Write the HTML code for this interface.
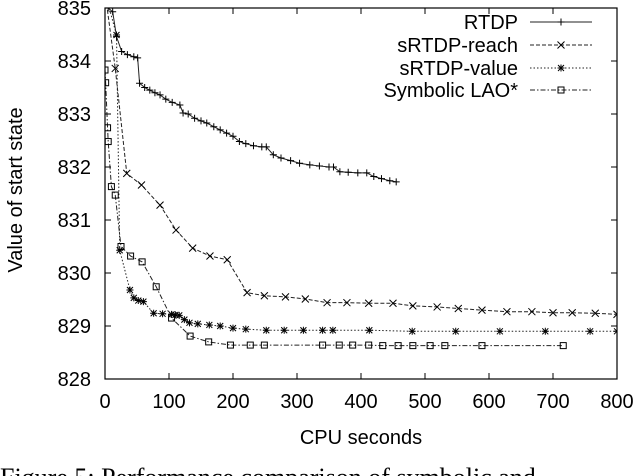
<!DOCTYPE html>
<html><head><meta charset="utf-8">
<style>
html,body{margin:0;padding:0;background:#fff;width:640px;height:476px;overflow:hidden}
svg{display:block}
text{font-family:"Liberation Sans",sans-serif;fill:#000}
</style></head>
<body>
<svg id="chart" width="640" height="476" viewBox="0 0 640 476">
<defs><clipPath id="clip"><rect x="105" y="8" width="512" height="371"/></clipPath></defs>
<g id="grid"></g>
<g id="series" clip-path="url(#clip)"></g>
<rect x="105" y="8" width="512" height="371" fill="none" stroke="#000" stroke-width="1.2"/>
<g id="axes"></g>
<text x="361" y="444" font-size="20" text-anchor="middle">CPU seconds</text>
<text transform="translate(22,190) rotate(-90)" font-size="20" text-anchor="middle">Value of start state</text>
<g id="legend"></g>
<text x="0" y="486" font-size="26" style="font-family:'Liberation Serif',serif">Figure 5: Performance comparison of symbolic and</text>
</svg>
<script>
const xTicks=[0,100,200,300,400,500,600,700,800];
const yTicks=[828,829,830,831,832,833,834,835];
const rtdpX=[0,5,12,18,26,35,45,51,54,62,70,78,86,95,105,117,122,130,140,150,159,170,180,190,200,210,220,232,245,252,263,275,290,304,320,335,350,357,367,380,395,409,420,432,445,455];
const rtdpY=[835.3,835,834.93,834.46,834.18,834.12,834.08,834.06,833.58,833.5,833.45,833.4,833.36,833.28,833.22,833.17,833.02,833.0,832.92,832.87,832.83,832.76,832.7,832.64,832.58,832.48,832.44,832.4,832.38,832.38,832.23,832.17,832.12,832.07,832.04,832.02,832.0,832.0,831.91,831.9,831.89,831.89,831.82,831.78,831.74,831.72];
const reachX=[0,16,34,57,86,111,137,164,191,222,249,282,313,347,378,412,450,481,519,552,589,628,667,700,730,766,800];
const reachY=[835.3,833.86,831.88,831.66,831.28,830.81,830.47,830.32,830.25,829.63,829.57,829.55,829.51,829.44,829.44,829.43,829.43,829.38,829.36,829.33,829.3,829.27,829.27,829.25,829.25,829.24,829.22];
const valueX=[0,18,23,39,45,52,60,76,90,104,110,116,124,132,145,163,180,200,220,252,280,310,340,356,413,480,548,617,688,758,800];
const valueY=[835.3,834.49,830.43,829.68,829.53,829.48,829.46,829.24,829.23,829.22,829.21,829.2,829.12,829.06,829.04,829.02,829.0,828.96,828.94,828.92,828.92,828.92,828.92,828.92,828.92,828.9,828.9,828.9,828.9,828.9,828.9];
const laoX=[0,1,4,5,10,16,25,40,58,80,104,133,162,196,227,249,340,366,387,412,434,458,481,508,531,589,716];
const laoY=[833.83,833.59,832.74,832.48,831.63,831.47,830.5,830.32,830.21,829.74,829.15,828.81,828.7,828.64,828.64,828.64,828.64,828.64,828.64,828.64,828.63,828.63,828.63,828.63,828.63,828.63,828.63];
const seriesNames=["RTDP","sRTDP-reach","sRTDP-value","Symbolic LAO*"];

const NS="http://www.w3.org/2000/svg";
const X0=105,X1=617,Y0=379,Y1=8;
function sx(v){return X0+(v-0)/(800-0)*(X1-X0);}
function sy(v){return Y0-(v-828)/(835-828)*(Y0-Y1);}
function mk(tag,attrs,parent){const e=document.createElementNS(NS,tag);for(const k in attrs)e.setAttribute(k,attrs[k]);parent.appendChild(e);return e;}
const axes=document.getElementById('axes');
xTicks.forEach(t=>{
  const l=mk('line',{x1:sx(t),x2:sx(t),y1:Y0,y2:Y0-6,stroke:'#000'},axes);
  
  
  const l2=mk('line',{x1:sx(t),x2:sx(t),y1:Y1,y2:Y1+6,stroke:'#000'},axes);
  
  
  const tx=mk('text',{x:sx(t),y:Y0+29,'font-size':20,'text-anchor':'middle'},axes);
  tx.textContent=t;
  
  
});
yTicks.forEach(t=>{
  const l=mk('line',{x1:X0,x2:X0+6,y1:sy(t),y2:sy(t),stroke:'#000'},axes);
  
  
  const l2=mk('line',{x1:X1,x2:X1-6,y1:sy(t),y2:sy(t),stroke:'#000'},axes);
  
  
  const tx=mk('text',{x:X0-14,y:sy(t)+7,'font-size':20,'text-anchor':'end'},axes);
  tx.textContent=t;
  
  
});
const styles=[
 {dash:'none',m:'plus'},{dash:'4,2',m:'x'},{dash:'1.5,2',m:'star'},{dash:'5,2,1.5,2',m:'square'}];
function marker(g,m,x,y){
  const s=3.5,a={stroke:'#000','stroke-width':1,fill:'none'};
  if(m==='plus'){mk('path',Object.assign({d:`M${x-s} ${y}H${x+s}M${x} ${y-s}V${y+s}`},a),g);}
  else if(m==='x'){mk('path',Object.assign({d:`M${x-s} ${y-s}L${x+s} ${y+s}M${x-s} ${y+s}L${x+s} ${y-s}`},a),g);}
  else if(m==='star'){mk('path',Object.assign({d:`M${x-s} ${y}H${x+s}M${x} ${y-s}V${y+s}M${x-3} ${y-3}L${x+3} ${y+3}M${x-3} ${y+3}L${x+3} ${y-3}`},a),g);}
  else {mk('rect',Object.assign({x:x-3,y:y-3,width:6,height:6},a),g);}
}
const data=[[rtdpX,rtdpY],[reachX,reachY],[valueX,valueY],[laoX,laoY]];
const sg=document.getElementById('series');
data.forEach((d,i)=>{
  const g=mk('g',{},sg);
  
  
  const pts=d[0].map((x,j)=>sx(x)+','+sy(d[1][j])).join(' ');
  const pl=mk('polyline',{points:pts,fill:'none',stroke:'#222','stroke-width':1,'stroke-dasharray':styles[i].dash},g);
  
  
  d[0].forEach((x,j)=>marker(g,styles[i].m,sx(x),sy(d[1][j])));
});
const lg=document.getElementById('legend');
const ly=[22,45,68,90];
seriesNames.forEach((n,i)=>{
  const g=mk('g',{},lg);
  
  
  const t=mk('text',{x:518,y:ly[i]+7,'font-size':20,'text-anchor':'end'},g);
  t.textContent=n;
  mk('line',{x1:530,x2:592,y1:ly[i],y2:ly[i],stroke:'#222','stroke-width':1,'stroke-dasharray':styles[i].dash},g);
  marker(g,styles[i].m,561,ly[i]);
});
</script>
</body></html>
